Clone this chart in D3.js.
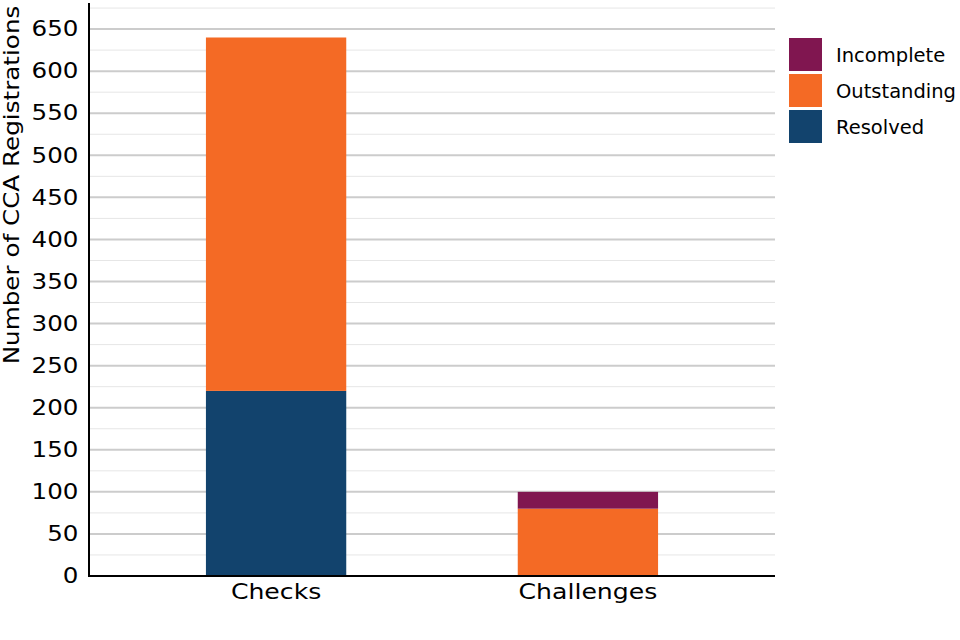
<!DOCTYPE html>
<html lang="en">
<head>
    <meta charset="UTF-8">
    <title>CCA Registrations</title>
    <script type="text/javascript" src="https://cdn.jsdelivr.net/npm/d3@7"></script>
    <style type="text/css">
        body { margin: 0; background: #fff; }
        text { font-family: "DejaVu Sans", sans-serif; }
    </style>
</head>
<body>
    <script type="text/javascript">
        //Data
        var categories = ["Checks", "Challenges"];
        var seriesNames = ["Resolved", "Outstanding", "Incomplete"];
        var resolved = [220, 0];
        var outstanding = [420, 80];
        var incomplete = [0, 20];
        var yTicks = [0, 50, 100, 150, 200, 250, 300, 350, 400, 450, 500, 550, 600, 650];
        var legendOrder = ["Incomplete", "Outstanding", "Resolved"];

        var colors = {
            "Resolved": "#12436d",
            "Outstanding": "#f46a25",
            "Incomplete": "#801650"
        };

        //Width and height
        var w = 960;
        var h = 640;
        var padL = 89, padR = 775, padT = 3, padB = 576;
        var stretch = 1.17; // the reference font is a bit wider than DejaVu

        var table = categories.map(function(c, i) {
            return { cat: c, Resolved: resolved[i], Outstanding: outstanding[i], Incomplete: incomplete[i] };
        });
        var stacked = d3.stack().keys(seriesNames)(table);

        var xScale = d3.scaleBand()
            .domain(categories)
            .range([padL, padR])
            .paddingInner(0.55)
            .paddingOuter(0.375);

        var yScale = d3.scaleLinear()
            .domain([0, 681])
            .range([padB, padT]);

        var svg = d3.select("body")
            .append("svg")
            .attr("width", w)
            .attr("height", h);

        //minor grid
        var minor = d3.range(25, 700, 50);
        svg.append("g")
            .selectAll("line")
            .data(minor)
            .enter()
            .append("line")
            .attr("x1", padL)
            .attr("x2", padR)
            .attr("y1", function(d) { return yScale(d); })
            .attr("y2", function(d) { return yScale(d); })
            .attr("stroke", "#e6e6e6")
            .attr("stroke-width", 1);

        //major grid
        svg.append("g")
            .selectAll("line")
            .data(yTicks.slice(1))
            .enter()
            .append("line")
            .attr("x1", padL)
            .attr("x2", padR)
            .attr("y1", function(d) { return yScale(d); })
            .attr("y2", function(d) { return yScale(d); })
            .attr("stroke", "#cccccc")
            .attr("stroke-width", 2);

        //bars
        svg.append("g")
            .selectAll("g")
            .data(stacked)
            .enter()
            .append("g")
            .attr("fill", function(d) { return colors[d.key]; })
            .selectAll("rect")
            .data(function(d) { return d; })
            .enter()
            .append("rect")
            .attr("x", function(d) { return xScale(d.data.cat); })
            .attr("y", function(d) { return yScale(d[1]); })
            .attr("width", xScale.bandwidth())
            .attr("height", function(d) { return yScale(d[0]) - yScale(d[1]); });

        //y axis
        var yAxis = svg.append("g")
            .attr("transform", "translate(" + padL + ",0)")
            .call(d3.axisLeft(yScale).tickValues(yTicks).tickSize(0).tickPadding(9));
        yAxis.select(".domain").remove();
        yAxis.selectAll("text")
            .attr("font-size", "21px")
            .attr("fill", "#000")
            .attr("transform", "scale(" + stretch + ",1)");

        //x axis
        var xAxis = svg.append("g")
            .attr("transform", "translate(0," + padB + ")")
            .call(d3.axisBottom(xScale).tickSize(0).tickPadding(8));
        xAxis.select(".domain").remove();
        xAxis.selectAll("text")
            .attr("font-size", "21.5px")
            .attr("fill", "#000")
            .attr("transform", "scale(" + stretch + ",1)");

        //axis lines
        svg.append("line")
            .attr("x1", padL).attr("x2", padL)
            .attr("y1", padT).attr("y2", padB + 1)
            .attr("stroke", "#000").attr("stroke-width", 2);
        svg.append("line")
            .attr("x1", padL - 1).attr("x2", padR)
            .attr("y1", padB).attr("y2", padB)
            .attr("stroke", "#000").attr("stroke-width", 2);

        //y title
        svg.append("text")
            .attr("transform", "translate(19,185) rotate(-90) scale(1.12,1)")
            .attr("text-anchor", "middle")
            .attr("font-size", "22px")
            .attr("fill", "#000")
            .text("Number of CCA Registrations");

        //legend
        var legend = svg.append("g")
            .selectAll("g")
            .data(legendOrder)
            .enter()
            .append("g")
            .attr("transform", function(d, i) { return "translate(789," + (38 + i * 36) + ")"; });
        legend.append("rect")
            .attr("width", 33)
            .attr("height", 33)
            .attr("fill", function(d) { return colors[d]; });
        legend.append("text")
            .attr("x", 47)
            .attr("y", 17)
            .attr("dy", "0.35em")
            .attr("font-size", "19.5px")
            .attr("fill", "#000")
            .text(function(d) { return d; });
    </script>
</body>
</html>
